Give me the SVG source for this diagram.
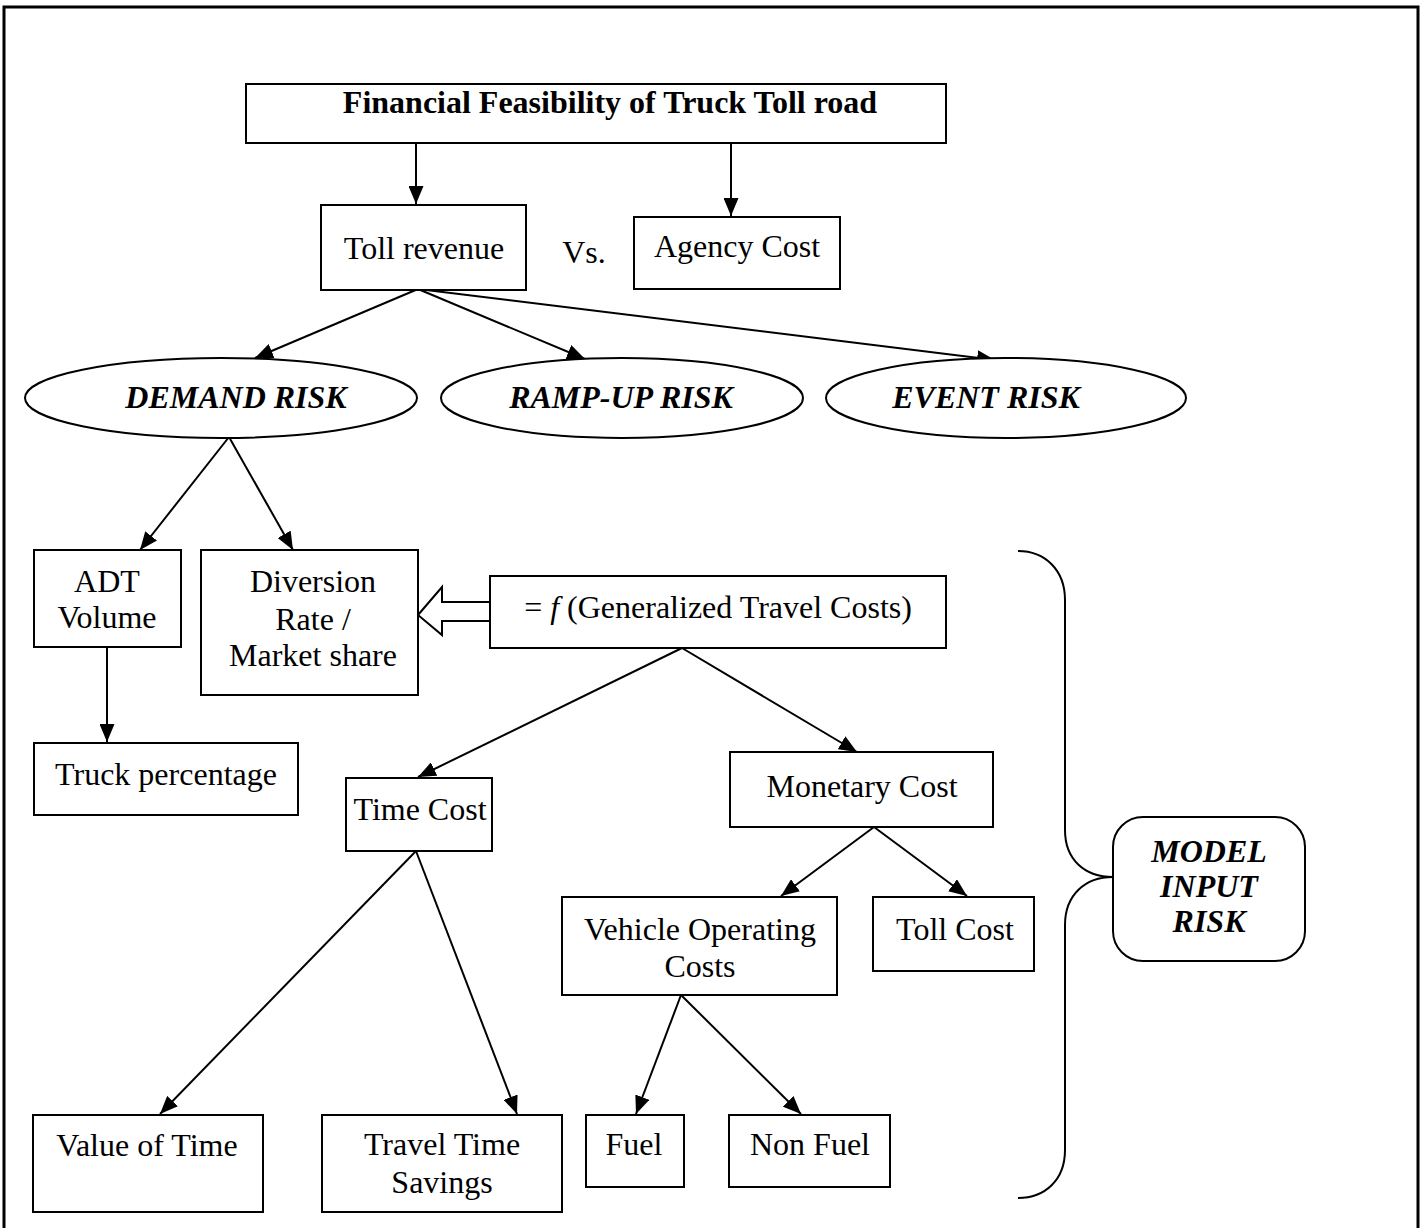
<svg xmlns="http://www.w3.org/2000/svg" width="1422" height="1228" viewBox="0 0 1422 1228">
<defs>
<marker id="ah" viewBox="0 0 10 10" refX="10" refY="5" markerWidth="18" markerHeight="15" markerUnits="userSpaceOnUse" orient="auto" preserveAspectRatio="none">
<path d="M0,0 L10,5 L0,10 z" fill="#000"/>
</marker>
<style>
.box{fill:#fff;stroke:#000;stroke-width:2}
.t{font-family:"Liberation Serif","Times New Roman",serif;font-size:32px;fill:#000;text-anchor:middle}
.b{font-weight:bold}
.bi{font-weight:bold;font-style:italic}
.c{fill:none;stroke:#000;stroke-width:2}
</style>
</defs>
<rect width="1422" height="1228" fill="#fff"/>
<path d="M4,1228 L4,7 L1418,7 L1418,1228" fill="none" stroke="#000" stroke-width="3"/>

<g id="connectors">
<line class="c" x1="416" y1="143" x2="416" y2="204" marker-end="url(#ah)"/>
<line class="c" x1="731" y1="143" x2="731" y2="216" marker-end="url(#ah)"/>
<line class="c" x1="418" y1="289" x2="255" y2="358" marker-end="url(#ah)"/>
<line class="c" x1="418" y1="289" x2="585" y2="359" marker-end="url(#ah)"/>
<line class="c" x1="418" y1="289" x2="995" y2="360" marker-end="url(#ah)"/>
<line class="c" x1="229" y1="437" x2="140" y2="550" marker-end="url(#ah)"/>
<line class="c" x1="229" y1="437" x2="293" y2="550" marker-end="url(#ah)"/>
<line class="c" x1="107" y1="647" x2="107" y2="742" marker-end="url(#ah)"/>
<line class="c" x1="682" y1="648" x2="418" y2="777" marker-end="url(#ah)"/>
<line class="c" x1="682" y1="648" x2="857" y2="752" marker-end="url(#ah)"/>
<line class="c" x1="874" y1="827" x2="781" y2="896" marker-end="url(#ah)"/>
<line class="c" x1="874" y1="827" x2="967" y2="896" marker-end="url(#ah)"/>
<line class="c" x1="681" y1="995" x2="636" y2="1114" marker-end="url(#ah)"/>
<line class="c" x1="681" y1="995" x2="801" y2="1114" marker-end="url(#ah)"/>
<line class="c" x1="416" y1="851" x2="160" y2="1114" marker-end="url(#ah)"/>
<line class="c" x1="416" y1="851" x2="517" y2="1114" marker-end="url(#ah)"/>
<path class="c" d="M490,602 L442,602 L442,587 L418,615 L442,635 L442,621 L490,621" fill="#fff"/>
<path class="c" d="M1018,551 C1045,551 1065,570 1065,600 L1065,830 C1065,860 1085,877 1113,877 C1085,877 1065,895 1065,925 L1065,1150 C1065,1180 1045,1198 1018,1198"/>
</g>

<g id="title">
<rect class="box" x="246" y="84" width="700" height="59"/>
<text class="t b" x="610" y="113">Financial Feasibility of Truck Toll road</text>
</g>
<g id="toll-revenue">
<rect class="box" x="321" y="205" width="205" height="85"/>
<text class="t" x="424" y="259">Toll revenue</text>
</g>
<g id="vs">
<text class="t" x="584" y="263">Vs.</text>
</g>
<g id="agency-cost">
<rect class="box" x="634" y="217" width="206" height="72"/>
<text class="t" x="737" y="257">Agency Cost</text>
</g>
<g id="demand-risk">
<ellipse class="box" cx="221" cy="398" rx="196" ry="40"/>
<text class="t bi" x="236" y="408">DEMAND RISK</text>
</g>
<g id="ramp-up-risk">
<ellipse class="box" cx="622" cy="398" rx="181" ry="40"/>
<text class="t bi" x="621" y="408">RAMP-UP RISK</text>
</g>
<g id="event-risk">
<ellipse class="box" cx="1006" cy="398" rx="180" ry="40"/>
<text class="t bi" x="986" y="408">EVENT RISK</text>
</g>
<g id="adt-volume">
<rect class="box" x="34" y="550" width="147" height="97"/>
<text class="t" x="107" y="592">ADT</text>
<text class="t" x="107" y="628">Volume</text>
</g>
<g id="diversion-rate">
<rect class="box" x="201" y="550" width="217" height="145"/>
<text class="t" x="313" y="592">Diversion</text>
<text class="t" x="313" y="630">Rate /</text>
<text class="t" x="313" y="666">Market share</text>
</g>
<g id="generalized-travel-costs">
<rect class="box" x="490" y="576" width="456" height="72"/>
<text class="t" x="718" y="618">= <tspan font-style="italic">f</tspan> (Generalized Travel Costs)</text>
</g>
<g id="truck-percentage">
<rect class="box" x="34" y="743" width="264" height="72"/>
<text class="t" x="166" y="785">Truck percentage</text>
</g>
<g id="time-cost">
<rect class="box" x="346" y="778" width="146" height="73"/>
<text class="t" x="420" y="820">Time Cost</text>
</g>
<g id="monetary-cost">
<rect class="box" x="730" y="752" width="263" height="75"/>
<text class="t" x="862" y="797">Monetary Cost</text>
</g>
<g id="vehicle-operating-costs">
<rect class="box" x="562" y="897" width="275" height="98"/>
<text class="t" x="700" y="940">Vehicle Operating</text>
<text class="t" x="700" y="977">Costs</text>
</g>
<g id="toll-cost">
<rect class="box" x="873" y="897" width="161" height="74"/>
<text class="t" x="955" y="940">Toll Cost</text>
</g>
<g id="fuel">
<rect class="box" x="586" y="1115" width="98" height="72"/>
<text class="t" x="634" y="1155">Fuel</text>
</g>
<g id="non-fuel">
<rect class="box" x="729" y="1115" width="161" height="72"/>
<text class="t" x="810" y="1155">Non Fuel</text>
</g>
<g id="value-of-time">
<rect class="box" x="33" y="1115" width="230" height="97"/>
<text class="t" x="147" y="1156">Value of Time</text>
</g>
<g id="travel-time-savings">
<rect class="box" x="322" y="1115" width="240" height="97"/>
<text class="t" x="442" y="1155">Travel Time</text>
<text class="t" x="442" y="1193">Savings</text>
</g>
<g id="model-input-risk">
<rect class="box" x="1113" y="817" width="192" height="144" rx="30" ry="30"/>
<text class="t bi" x="1209" y="862">MODEL</text>
<text class="t bi" x="1209" y="897">INPUT</text>
<text class="t bi" x="1209" y="932">RISK</text>
</g>
</svg>
